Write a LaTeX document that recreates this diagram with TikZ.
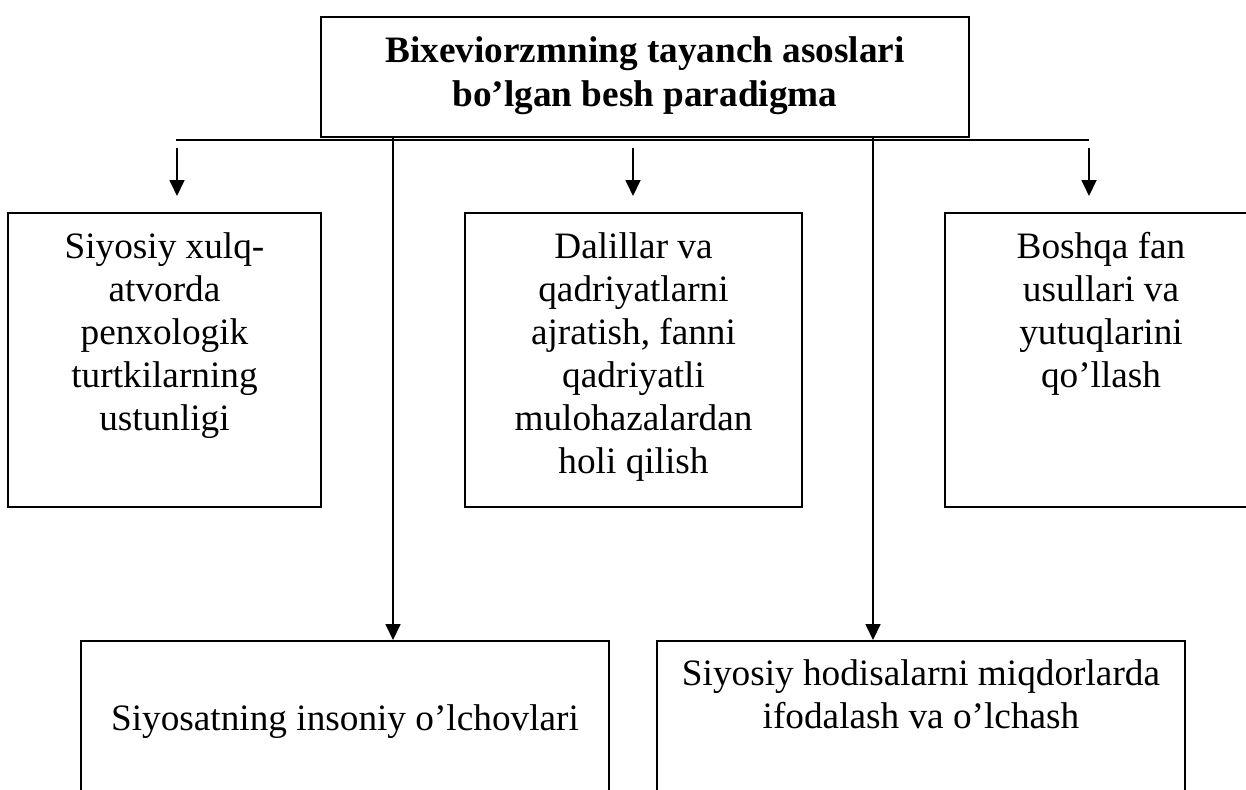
\documentclass[tikz,border=0pt]{standalone}
\usepackage{fontspec}
\setmainfont{Liberation Serif}
\usetikzlibrary{arrows.meta}
\begin{document}
\begin{tikzpicture}[x=0.2mm, y=-0.2mm, line width=0.35mm,
  font=\fontsize{21.2}{24.5}\selectfont,
  main/.style = {draw, rectangle, align=center, inner sep=0pt, anchor=north},
  upper/.style = {main, minimum height=58.8mm},
  lower/.style = {main, minimum width=105.6mm},
  arr/.style = {-{Triangle[width=3mm, length=3.2mm]}}]

	\path[use as bounding box, clip] (0,0) rectangle (1246,789);

	\node[main, font=\fontsize{21.2}{25}\selectfont\bfseries, minimum width=129.6mm, text height=18mm, text depth=6mm] (top) at (645,16) {Bixeviorzmning tayanch asoslari\\bo’lgan besh paradigma};

	\node[upper, minimum width=62.6mm, text height=43.56mm, text depth=15.24mm] (sx) at (164.5,212) {Siyosiy xulq-\\atvorda\\penxologik\\turtkilarning\\ustunligi};
	\node[upper, minimum width=67.4mm, text height=52.2mm, text depth=6.6mm] (dq) at (633.5,212) {Dalillar va\\qadriyatlarni\\ajratish, fanni\\qadriyatli\\mulohazalardan\\holi qilish};
	\node[upper, minimum width=62.4mm, text height=34.92mm, text depth=23.88mm] (bf) at (1101,212) {Boshqa fan\\usullari va\\yutuqlarini\\qo’llash};

	\node[lower, text height=18mm, text depth=14mm] (sp) at (345,640) {Siyosatning insoniy o’lchovlari};
	\node[lower, text height=17.6mm, text depth=14.4mm] (sh) at (921,640) {Siyosiy hodisalarni miqdorlarda\\ifodalash va o’lchash};

	\coordinate (hl) at (176,140);
	\coordinate (hr) at (1089,140);
	\coordinate (d1) at (177,148);
	\coordinate (d2) at (633,148);
	\coordinate (d3) at (1089,148);
	\coordinate (p1) at (393,0);
	\coordinate (p2) at (873,0);

	\draw (hl) -- (hr);
	\draw[arr, shorten >=3.2mm] (d1) -- (d1 |- sx.north);
	\draw[arr, shorten >=3.2mm] (d2) -- (d2 |- dq.north);
	\draw[arr, shorten >=3.2mm] (d3) -- (d3 |- bf.north);
	\draw[arr] (p1 |- top.south) -- (p1 |- sp.north);
	\draw[arr] (p2 |- top.south) -- (p2 |- sh.north);
\end{tikzpicture}
\end{document}
